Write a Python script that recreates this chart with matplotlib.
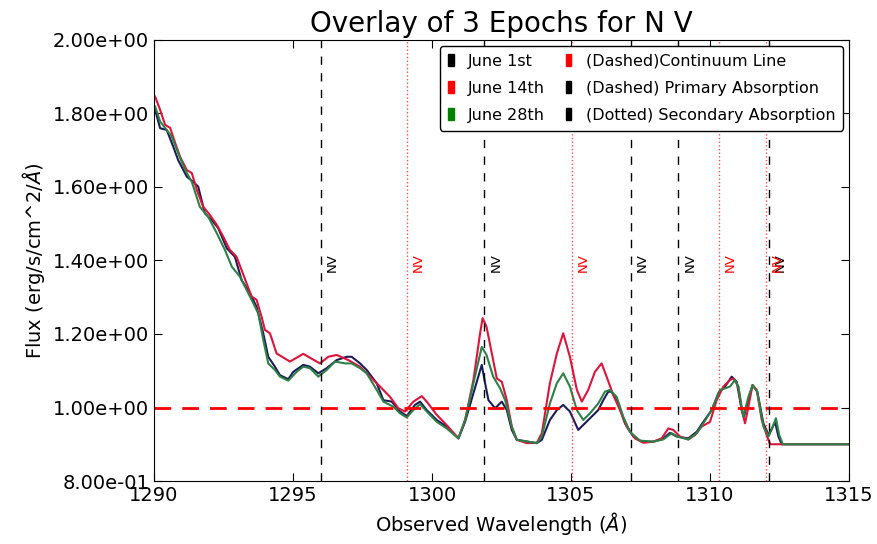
import matplotlib
matplotlib.use("Agg")
import matplotlib.pyplot as plt
from matplotlib.patches import Rectangle
from matplotlib.ticker import FormatStrFormatter

# ─── Data ─────────────────────────────────────────────────────────────────────
wl_jun01 = [1290.04, 1290.22, 1290.46, 1290.69, 1290.87, 1291.18, 1291.41, 1291.59, 1291.83, 1292.08,
            1292.31, 1292.62, 1292.91, 1293.15, 1293.45, 1293.69, 1293.93, 1294.11, 1294.35, 1294.53,
            1294.83, 1295.01, 1295.37, 1295.61, 1295.91, 1296.21, 1296.57, 1296.93, 1297.11, 1297.41,
            1297.65, 1298.01, 1298.25, 1298.55, 1298.85, 1299.09, 1299.39, 1299.57, 1299.81, 1300.17,
            1300.53, 1300.95, 1301.19, 1301.49, 1301.79, 1301.91, 1302.03, 1302.27, 1302.51, 1302.69,
            1302.87, 1303.05, 1303.77, 1303.95, 1304.24, 1304.49, 1304.72, 1304.96, 1305.26, 1305.50,
            1305.74, 1305.98, 1306.16, 1306.34, 1306.46, 1306.70, 1306.94, 1307.24, 1307.54, 1307.96,
            1308.32, 1308.56, 1308.80, 1309.22, 1309.52, 1309.76, 1310.06, 1310.30, 1310.54, 1310.78,
            1310.96, 1311.14, 1311.22, 1311.38, 1311.53, 1311.70, 1311.92, 1312.11, 1312.26, 1312.34,
            1312.46, 1312.58, 1315.0]
flux_jun01 = [1.810, 1.760, 1.755, 1.710, 1.673, 1.628, 1.614, 1.601, 1.528, 1.510,
              1.488, 1.433, 1.410, 1.347, 1.311, 1.274, 1.202, 1.138, 1.111, 1.088,
              1.077, 1.097, 1.116, 1.111, 1.093, 1.107, 1.129, 1.138, 1.138, 1.120,
              1.102, 1.066, 1.020, 1.016, 0.989, 0.977, 1.007, 1.016, 0.993, 0.966,
              0.948, 0.916, 0.961, 1.039, 1.116, 1.066, 1.020, 0.998, 1.016, 0.993,
              0.939, 0.912, 0.903, 0.912, 0.966, 0.993, 1.007, 0.989, 0.939, 0.957,
              0.975, 0.993, 1.020, 1.043, 1.043, 1.011, 0.957, 0.921, 0.907, 0.907,
              0.916, 0.931, 0.921, 0.916, 0.934, 0.961, 0.993, 1.039, 1.057, 1.084,
              1.070, 0.993, 0.975, 1.020, 1.061, 1.043, 0.957, 0.925, 0.948, 0.961,
              0.921, 0.900, 0.900]

wl_jun14 = [1290.04, 1290.22, 1290.40, 1290.58, 1290.76, 1290.94, 1291.18, 1291.36, 1291.54, 1291.77,
            1292.01, 1292.26, 1292.49, 1292.73, 1292.97, 1293.15, 1293.33, 1293.51, 1293.69, 1293.87,
            1293.99, 1294.17, 1294.41, 1294.89, 1295.37, 1295.55, 1295.97, 1296.27, 1296.57, 1296.99,
            1297.41, 1297.77, 1298.13, 1298.49, 1298.79, 1299.03, 1299.33, 1299.63, 1299.81, 1300.17,
            1300.53, 1300.95, 1301.19, 1301.49, 1301.73, 1301.82, 1301.96, 1302.20, 1302.33, 1302.51,
            1302.69, 1302.87, 1303.05, 1303.41, 1303.77, 1303.95, 1304.24, 1304.49, 1304.72, 1304.96,
            1305.21, 1305.39, 1305.62, 1305.86, 1306.10, 1306.28, 1306.52, 1306.76, 1307.00, 1307.30,
            1307.60, 1307.96, 1308.26, 1308.50, 1308.68, 1308.92, 1309.22, 1309.46, 1309.70, 1310.00,
            1310.24, 1310.48, 1310.72, 1310.84, 1311.02, 1311.14, 1311.26, 1311.38, 1311.53, 1311.68,
            1311.86, 1312.04, 1312.16, 1315.0]
flux_jun14 = [1.846, 1.810, 1.769, 1.761, 1.720, 1.682, 1.646, 1.638, 1.592, 1.546,
              1.524, 1.497, 1.465, 1.429, 1.410, 1.374, 1.338, 1.302, 1.293, 1.247,
              1.211, 1.202, 1.147, 1.125, 1.146, 1.138, 1.120, 1.138, 1.143, 1.129,
              1.111, 1.084, 1.057, 1.029, 0.998, 0.989, 1.016, 1.031, 1.016, 0.980,
              0.952, 0.916, 0.966, 1.075, 1.202, 1.243, 1.220, 1.129, 1.079, 1.070,
              1.020, 0.948, 0.912, 0.903, 0.904, 0.930, 1.066, 1.147, 1.202, 1.138,
              1.048, 1.016, 1.048, 1.097, 1.120, 1.084, 1.034, 0.993, 0.948, 0.916,
              0.904, 0.907, 0.916, 0.943, 0.939, 0.921, 0.913, 0.925, 0.948, 0.961,
              1.020, 1.057, 1.075, 1.079, 1.057, 0.993, 0.957, 1.002, 1.061, 1.048,
              0.966, 0.925, 0.900, 0.900]

wl_jun28 = [1290.04, 1290.22, 1290.46, 1290.64, 1290.87, 1291.12, 1291.36, 1291.65, 1291.95, 1292.26,
            1292.55, 1292.80, 1293.09, 1293.33, 1293.57, 1293.75, 1293.93, 1294.11, 1294.35, 1294.53,
            1294.83, 1295.13, 1295.37, 1295.61, 1295.91, 1296.21, 1296.51, 1296.87, 1297.11, 1297.41,
            1297.65, 1298.01, 1298.25, 1298.61, 1298.85, 1299.09, 1299.33, 1299.57, 1299.81, 1300.17,
            1300.53, 1300.95, 1301.19, 1301.49, 1301.79, 1301.96, 1302.20, 1302.45, 1302.63, 1302.87,
            1303.05, 1303.77, 1303.95, 1304.24, 1304.49, 1304.72, 1304.96, 1305.21, 1305.44, 1305.68,
            1305.98, 1306.22, 1306.40, 1306.64, 1306.88, 1307.12, 1307.48, 1307.96, 1308.32, 1308.62,
            1308.86, 1309.22, 1309.52, 1309.76, 1310.06, 1310.36, 1310.54, 1310.72, 1310.90, 1311.02,
            1311.20, 1311.38, 1311.53, 1311.70, 1311.92, 1312.11, 1312.26, 1312.37, 1312.49, 1312.62,
            1315.0]
flux_jun28 = [1.819, 1.778, 1.755, 1.737, 1.692, 1.646, 1.614, 1.546, 1.519, 1.474,
              1.429, 1.383, 1.356, 1.320, 1.284, 1.256, 1.184, 1.120, 1.102, 1.084,
              1.073, 1.097, 1.111, 1.107, 1.084, 1.102, 1.125, 1.120, 1.120, 1.107,
              1.093, 1.048, 1.016, 1.002, 0.984, 0.973, 0.993, 1.009, 0.989, 0.961,
              0.943, 0.916, 0.966, 1.066, 1.165, 1.143, 1.084, 1.052, 1.020, 0.948,
              0.912, 0.903, 0.921, 1.011, 1.066, 1.093, 1.057, 0.993, 0.966, 0.984,
              1.011, 1.043, 1.048, 1.029, 0.975, 0.934, 0.910, 0.907, 0.913, 0.930,
              0.920, 0.913, 0.930, 0.957, 0.993, 1.048, 1.052, 1.057, 1.075, 1.057,
              0.975, 1.029, 1.061, 1.043, 0.948, 0.922, 0.948, 0.971, 0.925, 0.900,
              0.900]

# absorption markers
primary_wl = [1296.00, 1301.88, 1307.15, 1308.86, 1312.13]
secondary_wl = [1299.09, 1305.03, 1310.32, 1312.01]
continuum = 1.0

# ─── Plot ─────────────────────────────────────────────────────────────────────
fig = plt.figure(figsize=(8.77, 5.44), dpi=100)
ax = fig.add_axes([0.1756, 0.1158, 0.7925, 0.8107])

ax.plot(wl_jun01, flux_jun01, color="#1c1c58", lw=1.5)
ax.plot(wl_jun14, flux_jun14, color="#dc143c", lw=1.5)
ax.plot(wl_jun28, flux_jun28, color="#2e8048", lw=1.5)

ax.axhline(continuum, color="red", ls="--", lw=2, dashes=(6, 4))

for w in primary_wl:
    ax.axvline(w, color="black", ls="--", lw=1, dashes=(6, 6))
    ax.text(w + 0.18, 1.37, "NV", rotation=90, fontsize=9.5, color="black",
            ha="left", va="bottom")
for w in secondary_wl:
    ax.axvline(w, color="red", ls=":", lw=1, alpha=0.7)
    ax.text(w + 0.18, 1.37, "NV", rotation=90, fontsize=9.5, color="red",
            ha="left", va="bottom")

ax.set_xlim(1290, 1315)
ax.set_ylim(0.8, 2.0)
ax.set_yticks([0.8, 1.0, 1.2, 1.4, 1.6, 1.8, 2.0])
ax.yaxis.set_major_formatter(FormatStrFormatter("%.2e"))
ax.tick_params(direction="in", top=True, right=True, labelsize=14, length=6)

ax.set_title("Overlay of 3 Epochs for N V", fontsize=20)
ax.set_xlabel(r"Observed Wavelength ($\AA$)", fontsize=14)
ax.set_ylabel(r"Flux (erg/s/cm^2/$\AA$)", fontsize=14)

handles = [Rectangle((0, 0), 1, 1, color=c) for c in
           ["black", "red", "green", "red", "black", "black"]]
labels = ["June 1st", "June 14th", "June 28th",
          "(Dashed)Continuum Line", "(Dashed) Primary Absorption",
          "(Dotted) Secondary Absorption"]
leg = ax.legend(handles, labels, ncol=2, loc="upper right", fontsize=11.5,
                handlelength=0.35, handleheight=0.85, handletextpad=0.9,
                columnspacing=1.3, labelspacing=0.75, borderpad=0.5,
                borderaxespad=0.35, fancybox=True, framealpha=1,
                edgecolor="black")

fig.savefig("out.png", dpi=100)
